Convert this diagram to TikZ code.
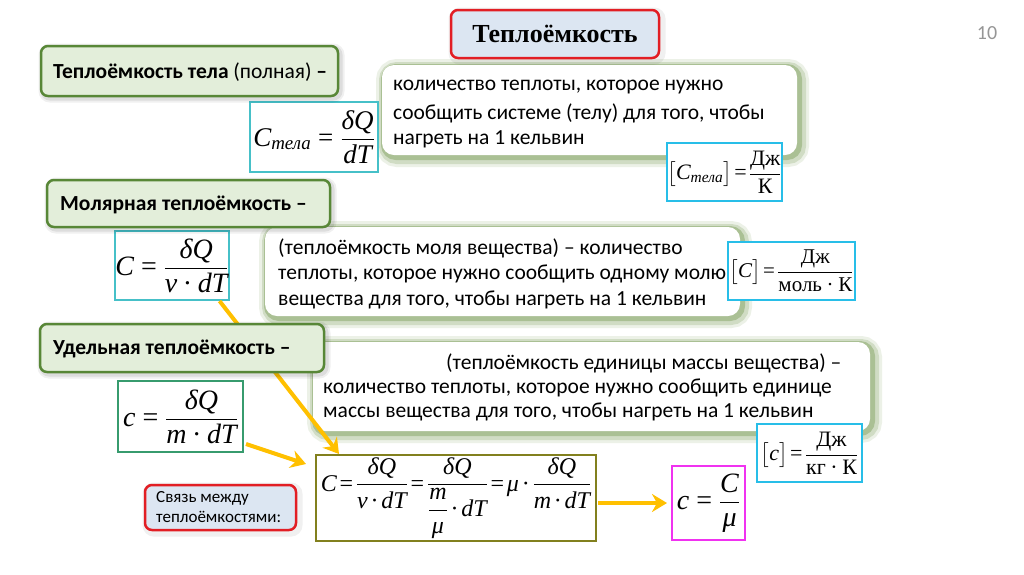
\documentclass[tikz,border=0pt]{standalone}
\usepackage{amsmath}
\usepackage[no-math]{fontspec}
\setmainfont{Carlito}
\newfontfamily\tms{Liberation Serif}
\usetikzlibrary{calc,arrows.meta}
\definecolor{gfill}{RGB}{227,238,218}
\definecolor{gdraw}{RGB}{88,135,55}
\definecolor{glowc}{RGB}{100,140,60}
\definecolor{tfill}{RGB}{220,230,242}
\definecolor{tred}{RGB}{226,30,36}
\definecolor{cyanb}{RGB}{40,190,232}
\definecolor{tealb}{RGB}{70,192,200}
\definecolor{greenb}{RGB}{55,155,110}
\definecolor{oliveb}{RGB}{130,128,30}
\definecolor{magb}{RGB}{240,50,240}
\definecolor{arrowc}{RGB}{255,192,0}
\definecolor{numc}{RGB}{150,150,150}
\newcommand\fsz[1]{\fontsize{#1}{#1}\selectfont}
\newcommand\ti[1]{\text{\tms\itshape #1}}
\newcommand\tu[1]{\text{\tms #1}}
\newcommand\teq{\mathrel{\tu{=}}}
\newcommand\tdot{\mathbin{\tu{·}}}
\tikzset{
  gbox/.style={draw=gdraw, line width=2.5pt, fill=gfill, rounded corners=7pt, inner sep=0pt,
    preaction={draw=black, draw opacity=0.06, line width=9pt, transform canvas={shift={(2pt,-2pt)}}},
    preaction={draw=black, draw opacity=0.08, line width=5pt, transform canvas={shift={(2pt,-2pt)}}}},
  wbox/.style={fill=white, rounded corners=12pt, inner sep=0pt,
    preaction={draw=glowc, draw opacity=0.12, line width=18pt, transform canvas={shift={(3pt,-3pt)}}},
    preaction={draw=glowc, draw opacity=0.20, line width=12pt, transform canvas={shift={(3pt,-3pt)}}},
    preaction={draw=glowc, draw opacity=0.35, line width=6pt, transform canvas={shift={(2pt,-2pt)}}}},
  tbox/.style={draw=tred, line width=2.5pt, fill=tfill, rounded corners=7pt, inner sep=0pt,
    preaction={draw=black, draw opacity=0.06, line width=9pt, transform canvas={shift={(2pt,-2pt)}}}},
  fbox/.style={draw=#1, line width=2pt, fill=white, inner sep=0pt},
  gtext/.style={anchor=west, inner sep=0pt, font=\fsz{21.5}\bfseries},
  wtext/.style={anchor=west, inner sep=0pt, font=\fsz{21.5}},
  yarrow/.style={draw=arrowc, line width=4pt, -{Stealth[length=15pt,width=18pt,inset=5pt]}},
}
\begin{document}
\begin{tikzpicture}[x=1pt,y=-1pt]
\useasboundingbox (0,0) rectangle (1024,574);
\fill[white] (0,0) rectangle (1024,574);

% white description boxes
\node[wbox, minimum width=415pt, minimum height=90pt] (w1) at (589.5,110) {};
\node[wbox, minimum width=475pt, minimum height=89pt] (w2) at (502.5,271.5) {};
\node[wbox, minimum width=557pt, minimum height=89pt] (w3) at (591.5,386.5) {};

\node[wtext] (w1a) at (393,87) {количество теплоты, которое нужно};
\node[wtext] (w1b) at (393,113) {сообщить системе (телу) для того, чтобы};
\node[wtext] (w1c) at (393,139) {нагреть на 1 кельвин};

\node[wtext] (w2a) at (278,248) {(теплоёмкость моля вещества) – количество};
\node[wtext] (w2b) at (278,274) {теплоты, которое нужно сообщить одному молю};
\node[wtext] (w2c) at (278,300) {вещества для того, чтобы нагреть на 1 кельвин};

\node[wtext] (w3a) at (446,363) {(теплоёмкость единицы массы вещества) –};
\node[wtext] (w3b) at (323,388) {количество теплоты, которое нужно сообщить единице};
\node[wtext] (w3c) at (323,412) {массы вещества для того, чтобы нагреть на 1 кельвин};

% formula boxes
\node[fbox=tealb, minimum width=128pt, minimum height=70pt, font=\fsz{27}] (f1) at (314,137)
  {$\ti{C}_{\ti{тела}}\teq\dfrac{\ti{δQ}}{\ti{dT}}$};
\node[fbox=cyanb, minimum width=115pt, minimum height=58pt, font=\fsz{22}] (u1) at (724.5,172)
  {$\bigl[\ti{C}_{\ti{тела}}\bigr]\!\teq\!\dfrac{\tu{Дж}}{\tu{К}}$};
\node[fbox=tealb, minimum width=112pt, minimum height=69pt, font=\fsz{28}] (f2) at (172,265.5)
  {$\ti{C}\teq\dfrac{\ti{δQ}}{\ti{ν}\tdot\ti{dT}}$};
\node[fbox=cyanb, minimum width=127pt, minimum height=58pt, font=\fsz{21}] (u2) at (791.5,271)
  {$\bigl[\ti{C}\bigr]\!\teq\!\dfrac{\tu{Дж}}{\tu{моль}\tdot\tu{К}}$};
\node[fbox=greenb, minimum width=125pt, minimum height=71pt, font=\fsz{28}] (f3) at (180.5,416.5)
  {$\ti{c}\teq\dfrac{\ti{δQ}}{\ti{m}\tdot\ti{dT}}$};
\node[fbox=cyanb, minimum width=105pt, minimum height=58pt, font=\fsz{22}] (u3) at (809.5,453)
  {$\bigl[\ti{c}\bigr]\!\teq\!\dfrac{\tu{Дж}}{\tu{кг}\tdot\tu{К}}$};
\node[fbox=oliveb, minimum width=280pt, minimum height=86pt, font=\fsz{24}] (comb) at (456,498)
  {$\thickmuskip=2mu\medmuskip=2mu \ti{C}\teq\dfrac{\ti{δQ}}{\ti{ν}\tdot\ti{dT}}\teq\dfrac{\ti{δQ}}{\dfrac{\ti{m}}{\ti{μ}}\tdot\ti{dT}}\teq\ti{μ}\tdot\dfrac{\ti{δQ}}{\ti{m}\tdot\ti{dT}}$};
\node[fbox=magb, minimum width=73pt, minimum height=74pt, font=\fsz{28}] (mag) at (708.5,503)
  {$\ti{c}\teq\dfrac{\ti{C}}{\ti{μ}}$};

% arrows
\draw[yarrow] ($(f2.south east)+(-10,0)$) -- ($(comb.north west)+(24,0)$);
\draw[yarrow] ($(f3.south east)+(2,-9)$) -- ($(comb.north west)+(-9,10)$);
\draw[yarrow] ($(comb.east)+(1,5)$) -- ($(mag.west)+(-4,0)$);

% green label boxes
\node[gbox, minimum width=297pt, minimum height=50pt] (g1) at (189.5,71) {};
\node[gtext] (g1t) at (53,72) {Теплоёмкость тела \mdseries(полная) \bfseries–};
\node[gbox, minimum width=283pt, minimum height=47pt] (g2) at (188.5,203.5) {};
\node[gtext] (g2t) at (60,205) {Молярная теплоёмкость –};
\node[gbox, minimum width=284pt, minimum height=48pt] (g3) at (182,348) {};
\node[gtext] (g3t) at (53,349) {Удельная теплоёмкость –};

% title
\node[tbox, minimum width=208pt, minimum height=48pt, font=\fsz{26}\tms\bfseries] (title) at (555,34) {Теплоёмкость};
\node[font=\fsz{20}, text=numc, inner sep=0pt] (num) at (987,33) {10};

% red box
\node[tbox, minimum width=151pt, minimum height=45pt] (rb) at (220.5,507.5) {};
\node[anchor=west, inner sep=0pt, align=left, font=\fontsize{17}{20}\selectfont] (rbt) at (156,507.5) {Связь между\\теплоёмкостями:};
\end{tikzpicture}
\end{document}
